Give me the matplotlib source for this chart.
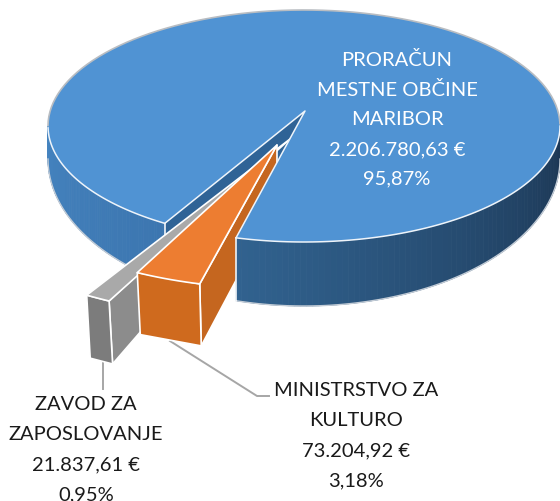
import numpy as np
import matplotlib
matplotlib.use('Agg')
import matplotlib.pyplot as plt
from matplotlib.colors import to_rgb

plt.rcParams['font.family'] = ['Lato', 'DejaVu Sans']

# chart data
names = ['PRORAČUN\nMESTNE OBČINE\nMARIBOR', 'MINISTRSTVO ZA\nKULTURO', 'ZAVOD ZA\nZAPOSLOVANJE']
amounts = [2206780.63, 73204.92, 21837.61]
percents = ['95,87%', '3,18%', '0,95%']
amount_labels = ['2.206.780,63 €', '73.204,92 €', '21.837,61 €']

# projected pie geometry, in pixels of the picture
cx, cy, a, b = 304, 127, 256, 116      # top face
cy2, a2, b2 = 160, 256, 147            # bottom rim
apex = np.array([305, 112])
start = 105.4                          # where the small slices begin (deg, clockwise on screen)
stretch = 1.18                         # the 3D tilt widens angles at the front

shares = np.array(amounts) / sum(amounts) * 360 * stretch
t_orange_end = start + shares[1]
t_gray_end = t_orange_end + shares[2]


def top_pt(t):
    t = np.radians(t)
    return np.array([cx + a * np.cos(t), cy + b * np.sin(t)])


def low_pt(t):
    t = np.radians(t)
    return np.array([cx + a2 * np.cos(t), cy2 + b2 * np.sin(t)])


def mix(c1, c2, f):
    return tuple((1 - f) * np.array(to_rgb(c1)) + f * np.array(to_rgb(c2)))


def wall(ax, t1, t2, c1, c2, z):
    # side of the pie, drawn as small shaded strips
    ts = np.linspace(t1, t2, 80)
    for i in range(len(ts) - 1):
        c = mix(c1, c2, i / (len(ts) - 2))
        pts = [top_pt(ts[i]), top_pt(ts[i + 1]), low_pt(ts[i + 1]), low_pt(ts[i])]
        ax.fill(*zip(*pts), color=c, lw=0.6, zorder=z)
    rim = np.array([low_pt(t) for t in ts])
    ax.plot(rim[:, 0], rim[:, 1], color='#c3ccd6', lw=1, zorder=z)


def wedge_top(t1, t2, new_apex, sx, sy):
    ts = np.linspace(t1, t2, 10)
    rim = [new_apex + np.array([sx, sy]) * (top_pt(t) - apex) for t in ts]
    return [new_apex] + rim


fig = plt.figure(figsize=(5.6, 5.02), dpi=100)
ax = fig.add_axes([0, 0, 1, 1])
ax.set_xlim(0, 560)
ax.set_ylim(502, 0)
ax.axis('off')

edge = dict(edgecolor='white', lw=1.2, joinstyle='round')

# main slice: left wall and the dark cut face
wall(ax, t_gray_end, 180, '#3c76b0', '#4483bf', 1)
p = top_pt(t_gray_end)
ax.fill([apex[0], p[0], p[0], apex[0]], [apex[1], p[1], p[1] + 42, apex[1] + 32],
        facecolor='#2f6396', edgecolor='none', zorder=2)
ax.plot([p[0], p[0]], [p[1], p[1] + 42], color='white', lw=1.1, zorder=2)

# grey slice
g_apex = np.array([290, 140])
g_top = wedge_top(t_orange_end, t_gray_end, g_apex, 1.45, 1.39)
gr, gl = g_top[1], g_top[-1]
g_depth = np.array([3.5, 63])
ax.fill([gr[0], gr[0] + g_depth[0], 240, 240], [gr[1], gr[1] + g_depth[1], 218, 180],
        facecolor='#8c8c8c', zorder=3, **edge)
ax.fill([gl[0], gr[0], gr[0] + g_depth[0], gl[0] + g_depth[0]],
        [gl[1], gr[1], gr[1] + g_depth[1], gl[1] + g_depth[1]],
        facecolor='#7c7c7c', zorder=4, **edge)
ax.fill(*zip(*g_top), facecolor='#a9a9a9', zorder=4, **edge)

# orange slice
o_apex = np.array([277, 146])
o_top = wedge_top(start, t_orange_end, o_apex, 1.12, 1.095)
orr, oll = o_top[1], o_top[-1]
o_depth = np.array([1.5, 62])
ax.fill([o_apex[0], orr[0], orr[0] + o_depth[0], 250, o_apex[0]],
        [o_apex[1], orr[1], orr[1] + o_depth[1], 255, 175],
        facecolor='#c5661f', zorder=5, **edge)
ax.fill([oll[0], orr[0], orr[0] + o_depth[0], oll[0] + 3],
        [oll[1], orr[1], orr[1] + o_depth[1], oll[1] + o_depth[1]],
        facecolor='#cf6a1e', zorder=6, **edge)
ax.fill(*zip(*o_top), facecolor='#ed7d31', zorder=6, **edge)

# main slice: right wall and top face go over the orange side
wall(ax, 0, start, '#1b3552', '#31628f', 7)
p = top_pt(start)
ax.plot([p[0], p[0]], [p[1], low_pt(start)[1]], color='white', lw=1.1, zorder=7)
ts = np.linspace(t_gray_end, start + 360, 300)
rim = np.array([top_pt(t) for t in ts])
ax.fill(*zip(*([apex] + list(rim))), facecolor='#5093d3', edgecolor='none', zorder=8)
back = (ts >= 180) & (ts <= 360)
ax.plot(rim[back, 0], rim[back, 1], color='#b9bdc2', lw=1.2, zorder=9)
ax.plot(rim[ts <= 180, 0], rim[ts <= 180, 1], color='#eef4fa', lw=1.1, zorder=9)
ax.plot(rim[ts >= 360, 0], rim[ts >= 360, 1], color='#eef4fa', lw=1.1, zorder=9)
ax.plot([rim[0, 0], apex[0], rim[-1, 0]], [rim[0, 1], apex[1], rim[-1, 1]],
        color='#eef4fa', lw=1.1, zorder=9)

# leader lines
ax.plot([103, 103], [362, 390], color='#a6a6a6', lw=1.4, zorder=3)
ax.plot([170, 257, 269], [342, 397, 397], color='#a6a6a6', lw=1.4, zorder=3)

# labels
lh = 29.8
fs = 14.5


def label(x, y, i, color):
    lines = names[i].split('\n') + [amount_labels[i], percents[i]]
    for k, s in enumerate(lines):
        ax.text(x, y + k * lh, s, ha='center', va='center', fontsize=fs, color=color, zorder=10)


label(397, 60, 0, 'white')
label(356, 391, 1, '#1a1a1a')
label(86, 405, 2, '#1a1a1a')

plt.savefig('out.png', dpi=100)
